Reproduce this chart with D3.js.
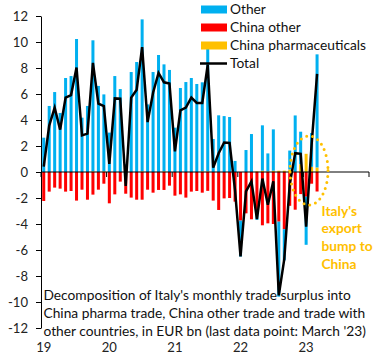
<!DOCTYPE html>
<html>
<head>
<meta charset="utf-8">
<script src="https://cdn.jsdelivr.net/npm/d3@7"></script>
<style>
  html, body { margin: 0; padding: 0; background: #fff; }
  svg { display: block; }
  text { font-family: Lato, "Open Sans", sans-serif; }
</style>
</head>
<body>
<svg id="chart" width="384" height="360"></svg>
<script>
// ---- data ----
const years = ["19", "20", "21", "22", "23"];
const monthNames = ["Jan","Feb","Mar","Apr","May","Jun","Jul","Aug","Sep","Oct","Nov","Dec"];
const months = [
  "Jan 19","Feb 19","Mar 19","Apr 19","May 19","Jun 19","Jul 19","Aug 19","Sep 19","Oct 19","Nov 19","Dec 19",
  "Jan 20","Feb 20","Mar 20","Apr 20","May 20","Jun 20","Jul 20","Aug 20","Sep 20","Oct 20","Nov 20","Dec 20",
  "Jan 21","Feb 21","Mar 21","Apr 21","May 21","Jun 21","Jul 21","Aug 21","Sep 21","Oct 21","Nov 21","Dec 21",
  "Jan 22","Feb 22","Mar 22","Apr 22","May 22","Jun 22","Jul 22","Aug 22","Sep 22","Oct 22","Nov 22","Dec 22",
  "Jan 23","Feb 23","Mar 23"
];
const other = [
  2.64, 5.08, 6.15, 4.54, 7.23, 7.38, 10.23, 4.18, 5.08, 10.08, 6.62, 5.92,
  3.03, 7.38, 6.38, 0.54, 7.69, 8.46, 11.69, 5.20, 7.69, 9.00, 8.23, 7.85,
  3.41, 6.46, 6.92, 7.23, 6.77, 6.85, 9.65, 2.54, 4.36, 4.30, 4.23, 0.85,
  -2.76, 1.69, 2.92, -0.50, 3.49, 1.38, 3.18, -5.77, -2.40, 1.45, 4.35, 2.50,
  -3.70, 2.60, 8.70
];
const chinaOther = [
  -2.23, -1.51, -1.20, -1.28, -1.51, -1.46, -2.20, -1.36, -2.13, -1.74, -1.36, -0.90,
  -2.41, -1.72, -0.74, -1.67, -1.97, -2.13, -2.13, -1.36, -1.59, -1.38, -1.38, -1.05,
  -1.82, -1.72, -1.97, -1.51, -1.46, -1.59, -1.45, -2.20, -2.92, -2.03, -2.00, -2.28,
  -3.74, -3.18, -3.64, -3.18, -4.10, -3.95, -4.00, -3.82, -4.40, -2.60, -2.90, -1.70,
  -1.90, -0.90, -1.50
];
const chinaPharma = [
  0, 0, 0, 0, 0, 0, 0, 0, 0, 0.05, 0, 0.05,
  0, 0, 0, 0.05, 0, 0, 0.05, 0, 0, 0, 0.05, 0,
  0, 0, 0, 0, 0, 0.05, 0.05, 0, 0, 0, 0, 0,
  0, 0, 0, 0.05, 0.10, 0.05, 0.10, 0.10, 0.10, 0.20, 0, 0.60,
  1.40, 0.40, 0.35
];
const total = [
  0.41, 3.57, 4.95, 3.26, 5.72, 5.92, 8.03, 2.82, 2.95, 8.39, 5.26, 5.07,
  0.62, 5.66, 5.64, -1.08, 5.72, 6.33, 9.61, 3.84, 6.10, 7.62, 6.90, 6.80,
  1.59, 4.74, 4.95, 5.72, 5.31, 5.31, 8.25, 0.34, 1.44, 2.27, 2.23, -1.43,
  -6.50, -1.49, -0.72, -3.63, -0.51, -2.52, -0.72, -9.49, -6.70, -0.95, 1.45, 1.40,
  -4.20, 2.10, 7.55
];
const yTicks = [-12, -10, -8, -6, -4, -2, 0, 2, 4, 6, 8, 10, 12];
const seriesNames = { other: "Other", chinaOther: "China other", pharma: "China pharmaceuticals", total: "Total" };
const colors = { other: "#00B0F0", chinaOther: "#FF0000", pharma: "#FFC000", total: "#000000" };
const noteLines = [
  "Decomposition of Italy's monthly trade surplus into",
  "China pharma trade, China other trade and trade with",
  "other countries, in EUR bn (last data point: March '23)"
];
const annotLines = ["Italy's", "export", "bump to", "China"];

// ---- layout ----
const svg = d3.select("#chart");
const domainMonths = years.flatMap(y => monthNames.map(m => m + " " + y));
const pad = 0.45;
const x = d3.scaleBand().domain(domainMonths).range([41, 369]).paddingInner(pad).paddingOuter(pad / 2);
const y = d3.scaleLinear().domain([-12, 12]).range([328, 16]);

const rows = months.map((m, i) => ({ month: m, pharma: chinaPharma[i], chinaOther: chinaOther[i], other: other[i], total: total[i] }));
const stack = d3.stack().keys(["pharma", "chinaOther", "other"]).offset(d3.stackOffsetDiverging);
const stacked = stack(rows);

// fit font size to reference width of the note text
const baseSize = 14;
const probe = svg.append("text").attr("font-size", baseSize).text(noteLines[1]);
const fs = baseSize * 322 / probe.node().getComputedTextLength();
probe.remove();

// bars
svg.append("g").selectAll("g").data(stacked).join("g")
  .attr("fill", d => colors[d.key])
  .selectAll("rect").data(d => d).join("rect")
  .attr("x", d => x(d.data.month))
  .attr("width", x.bandwidth())
  .attr("y", d => y(Math.max(d[0], d[1])))
  .attr("height", d => Math.abs(y(d[0]) - y(d[1])));

// y axis
const yAxis = svg.append("g").attr("transform", "translate(41,0)")
  .call(d3.axisLeft(y).tickValues(yTicks).tickFormat(d => String(d)).tickSize(5).tickSizeOuter(0).tickPadding(8));
yAxis.select(".domain").attr("stroke", "#000");
yAxis.selectAll(".tick line").attr("stroke", "#000");
yAxis.selectAll(".tick text").attr("font-size", fs * 0.95).attr("fill", "#222").attr("font-family", "Lato, sans-serif");

// zero line and year ticks
svg.append("line").attr("x1", 41).attr("x2", 369).attr("y1", y(0)).attr("y2", y(0)).attr("stroke", "#000").attr("stroke-width", 1);
const boundaries = years.map(yr => x("Jan " + yr) - x.step() * pad / 2).concat([369]);
svg.append("g").selectAll("line").data(boundaries).join("line")
  .attr("x1", d => d).attr("x2", d => d)
  .attr("y1", y(0)).attr("y2", y(0) + 5)
  .attr("stroke", "#000");

// year labels
svg.append("g").selectAll("text").data(years).join("text")
  .attr("x", d => x("Jan " + d) + x.bandwidth() / 2)
  .attr("y", 352)
  .attr("text-anchor", "middle")
  .attr("font-size", fs * 0.95)
  .attr("fill", "#222")
  .text(d => d);

// total line
svg.append("path").datum(rows)
  .attr("fill", "none").attr("stroke", colors.total).attr("stroke-width", 2.5)
  .attr("d", d3.line().x(d => x(d.month) + x.bandwidth() / 2).y(d => y(d.total)));

// dotted ellipse
svg.append("ellipse").attr("cx", 309).attr("cy", 170.5).attr("rx", 19).attr("ry", 34.5)
  .attr("fill", "none").attr("stroke", colors.pharma).attr("stroke-width", 3)
  .attr("stroke-dasharray", "0 6").attr("stroke-linecap", "round");

// annotation
svg.append("g").selectAll("text").data(annotLines).join("text")
  .attr("x", 321.5).attr("y", (d, i) => 215.5 + i * 17.8)
  .attr("font-size", fs).attr("font-weight", "bold").attr("fill", colors.pharma)
  .text(d => d);

// note
svg.append("g").selectAll("text").data(noteLines).join("text")
  .attr("x", 43.5).attr("y", (d, i) => 299.5 + i * 18)
  .attr("font-size", fs).attr("fill", "#111")
  .text(d => d);

// legend
const legendKeys = ["other", "chinaOther", "pharma", "total"];
const lg = svg.append("g").selectAll("g").data(legendKeys).join("g")
  .attr("transform", (d, i) => `translate(0,${9.5 + i * 18})`);
lg.filter(d => d !== "total").append("rect")
  .attr("x", 201).attr("y", -4).attr("width", 26).attr("height", 8)
  .attr("fill", d => colors[d]);
lg.filter(d => d === "total").append("line")
  .attr("x1", 200).attr("x2", 227).attr("y1", 0).attr("y2", 0)
  .attr("stroke", "#000").attr("stroke-width", 2.5);
lg.append("text").attr("x", 230).attr("y", 0).attr("dy", "0.35em")
  .attr("font-size", fs).attr("fill", "#111")
  .text(d => seriesNames[d]);
</script>
</body>
</html>
